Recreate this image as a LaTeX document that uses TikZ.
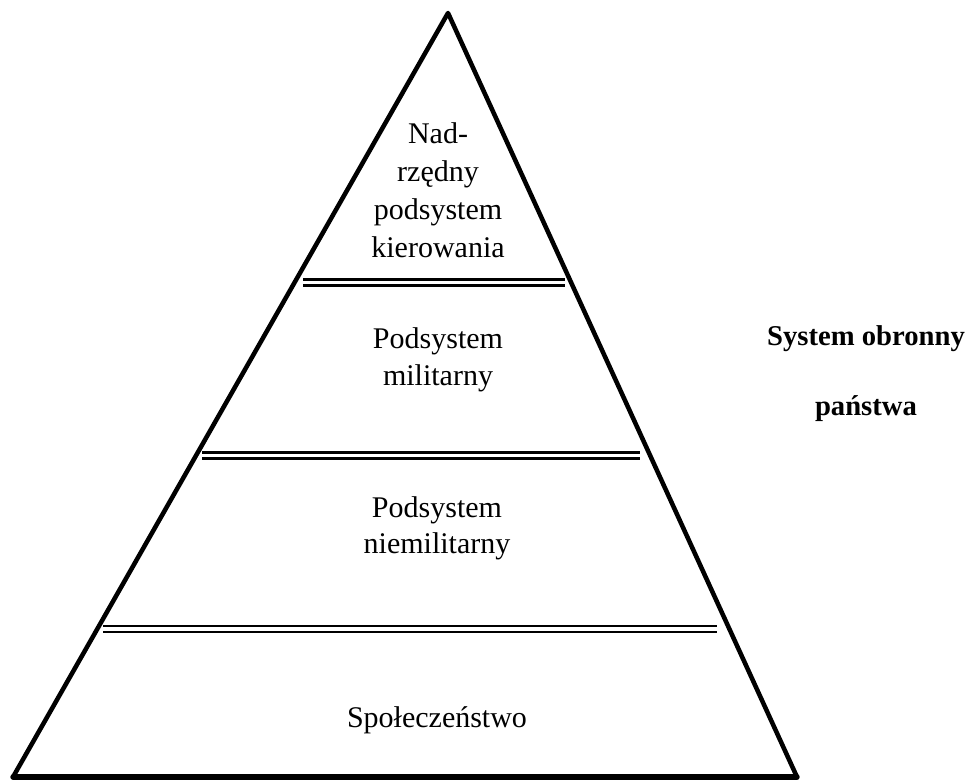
\documentclass[tikz,border=0pt]{standalone}
\usepackage{fontspec}
\setmainfont{Liberation Serif}
\begin{document}
\begin{tikzpicture}[x=0.75pt,y=-0.75pt,
  side/.style={line width=3.4pt,line join=round,line cap=round},
  sep/.style={line width=2.1pt},
  lbl/.style={anchor=base,font=\fontsize{22.5}{28}\selectfont,inner sep=0pt},
  ttl/.style={anchor=base,font=\fontsize{21.5}{26}\selectfont\bfseries,inner sep=0pt}]
\useasboundingbox (0,0) rectangle (969,783);
\coordinate (apex) at (448,13);
\coordinate (bl) at (13,777);
\coordinate (br) at (797,777);
\draw[side] (bl) -- (apex) -- (br);
\draw[line width=4pt,line cap=round] (bl) -- (br);
% separators
\foreach \y/\xa/\xb in {279.5/303/565, 452.5/202/640, 626/103/717}{
  \draw[sep] (\xa,\y) -- (\xb,\y);
  \draw[sep] (\xa,\y+6) -- (\xb,\y+6);
}
\node[lbl] (n1) at (438,143) {Nad-};
\node[lbl] (n2) at (438,181) {rzędny};
\node[lbl] (n3) at (438,219) {podsystem};
\node[lbl] (n4) at (438,257) {kierowania};
\node[lbl] (m1) at (438,348) {Podsystem};
\node[lbl] (m2) at (438,385) {militarny};
\node[lbl] (nm1) at (437,517) {Podsystem};
\node[lbl] (nm2) at (437,553) {niemilitarny};
\node[lbl] (sp) at (437,727) {Społeczeństwo};
\node[ttl] (t1) at (866,345) {System obronny};
\node[ttl] (t2) at (866,415) {państwa};
\end{tikzpicture}
\end{document}
